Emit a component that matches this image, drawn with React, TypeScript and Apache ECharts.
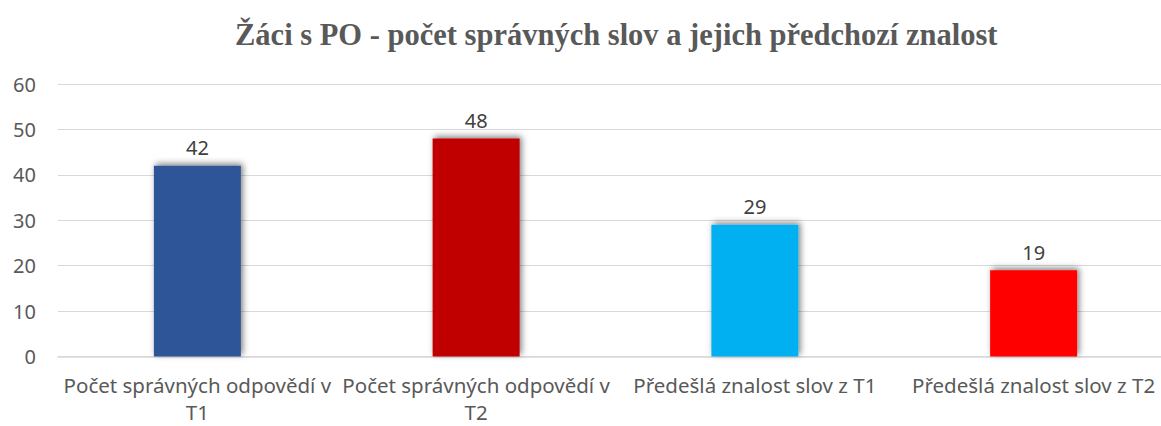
import React, { useEffect, useRef } from "react";
import * as echarts from "echarts";

const titleText = "Žáci s PO - počet správných slov a jejich předchozí znalost";
const categories = [
  "Počet správných odpovědí v T1",
  "Počet správných odpovědí v T2",
  "Předešlá znalost slov z T1",
  "Předešlá znalost slov z T2",
];
const values = [42, 48, 29, 19];
const barColors = ["#2F5597", "#C00000", "#00B0F0", "#FF0000"];
const yTicks = { min: 0, max: 60, interval: 10 };

export default function App() {
  const ref = useRef<HTMLDivElement>(null);
  useEffect(() => {
    if (!ref.current) return;
    const chart = echarts.init(ref.current, null, { renderer: "svg" });
    chart.setOption({
      animation: false,
      backgroundColor: "#ffffff",
      title: {
        text: titleText,
        left: 230,
        top: 14,
        textStyle: {
          fontFamily: "Liberation Serif",
          fontWeight: "bold",
          fontSize: 30.5,
          color: "#595959",
        },
      },
      grid: { left: 58, right: 0, top: 84, bottom: 426 - 356.5, containLabel: false },
      xAxis: {
        type: "category",
        data: categories,
        axisLine: { lineStyle: { color: "#D9D9D9", width: 1.5 } },
        axisTick: { show: false },
        axisLabel: {
          interval: 0,
          margin: 15,
          fontFamily: "Noto Sans",
          fontSize: 20.5,
          lineHeight: 27,
          color: "#595959",
          formatter: (v: string) => (v.length > 27 ? v.replace(/ (T\d)$/, "\n$1") : v),
        },
      },
      yAxis: {
        type: "value",
        min: yTicks.min,
        max: yTicks.max,
        interval: yTicks.interval,
        axisLine: { show: false },
        axisTick: { show: false },
        splitLine: { lineStyle: { color: "#D9D9D9", width: 1 } },
        axisLabel: {
          margin: 22,
          fontFamily: "Noto Sans",
          fontSize: 20,
          color: "#595959",
        },
      },
      series: [
        {
          type: "bar",
          barWidth: 87,
          data: values.map((v, i) => ({
            value: v,
            itemStyle: {
              color: barColors[i],
              shadowBlur: 6,
              shadowColor: "rgba(0,0,0,0.5)",
              shadowOffsetX: 2,
              shadowOffsetY: -2,
            },
          })),
          label: {
            show: true,
            position: "top",
            distance: 8,
            fontFamily: "Noto Sans",
            fontSize: 20,
            color: "#404040",
          },
        },
      ],
    });
    return () => chart.dispose();
  }, []);
  return (
    <div
      style={{
        position: "fixed",
        left: 0,
        top: 0,
        width: 1161,
        height: 426,
        overflow: "hidden",
        background: "#ffffff",
      }}
    >
      <div ref={ref} style={{ width: 1173, height: 426 }} />
    </div>
  );
}
